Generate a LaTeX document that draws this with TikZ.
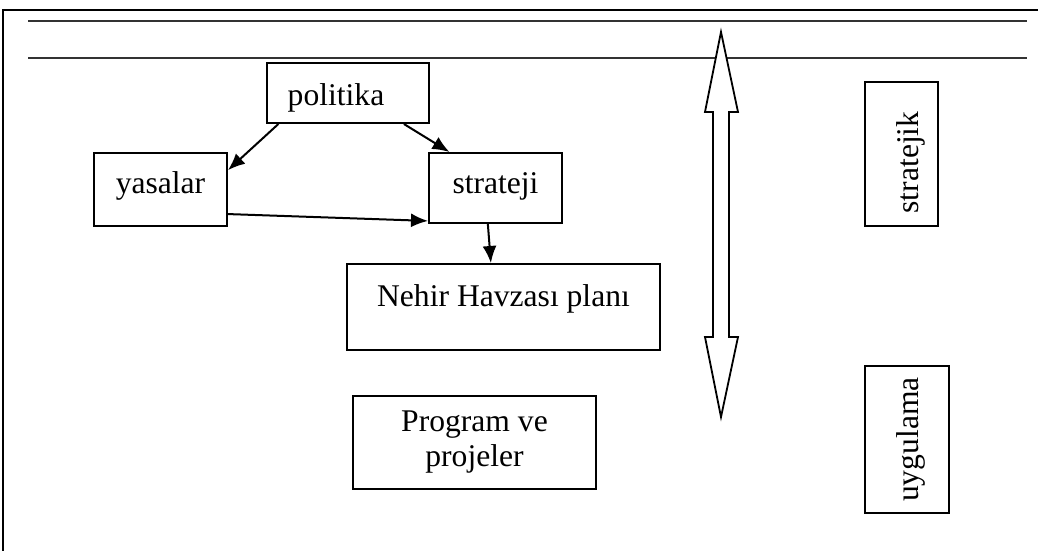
\documentclass[tikz,border=0pt]{standalone}
\usepackage{fontspec}
\setmainfont{Liberation Serif}
\usetikzlibrary{arrows.meta}

\begin{document}
\begin{tikzpicture}[x=1pt,y=-1pt]
    \tikzset{box/.style={
        draw, line width=2pt, inner sep=0pt, font=\fontsize{31.6}{35}\selectfont
      },
      sidebox/.style={box, rotate=90, text height=53pt},
      flow/.style={-{Latex[length=17pt,width=14pt]}, line width=2pt}
    }
    \useasboundingbox (0,0) rectangle (1038,551);

    % page frame and header lines
    \draw[line width=2.2pt] (3,551) -- (3,10) -- (1038,10);
    \draw[line width=2pt, black!80] (28,21) -- (1027,21);
    \draw[line width=2pt, black!80] (28,58) -- (1027,58);

    \node[box, minimum width=162pt, text height=42pt, text depth=18pt] (politika) at (348,93) {politika\kern24pt};
    \node[box, minimum width=133pt, text height=40pt, text depth=33pt] (yasalar) at (160.5,189.5) {yasalar};
    \node[box, minimum width=133pt, text height=40pt, text depth=30pt] (strateji) at (495.5,188) {strateji};
    \node[box, minimum width=313pt, text height=42pt, text depth=44pt] (nehir) at (503.5,307) {Nehir Havzası planı};
    \node[box, align=center, minimum width=243pt, minimum height=93pt] (program) at (474.5,442.5) {Program ve\\projeler};

    \node[sidebox, minimum width=144pt, text depth=20pt] (stratejik) at (901.5,154) {stratejik\kern17pt};
    \node[sidebox, minimum width=147pt, text depth=31pt] (uygulama) at (907,439.5) {uygulama};

    % double arrow between the levels
    \draw[line width=1.8pt, fill=white] (721,32) -- (738,112) -- (729,112) -- (729,337) -- (738,337)
      -- (721,417) -- (705,337) -- (713,337) -- (713,112) -- (705,112) -- cycle;

    \draw[flow] (politika.204) -- (yasalar.16);
    \draw[flow] (politika.331) -- (strateji.142);
    \draw[flow] (yasalar.340) -- (strateji.206);
    \draw[flow] (strateji.258) -- (nehir.106);
\end{tikzpicture}
\end{document}
